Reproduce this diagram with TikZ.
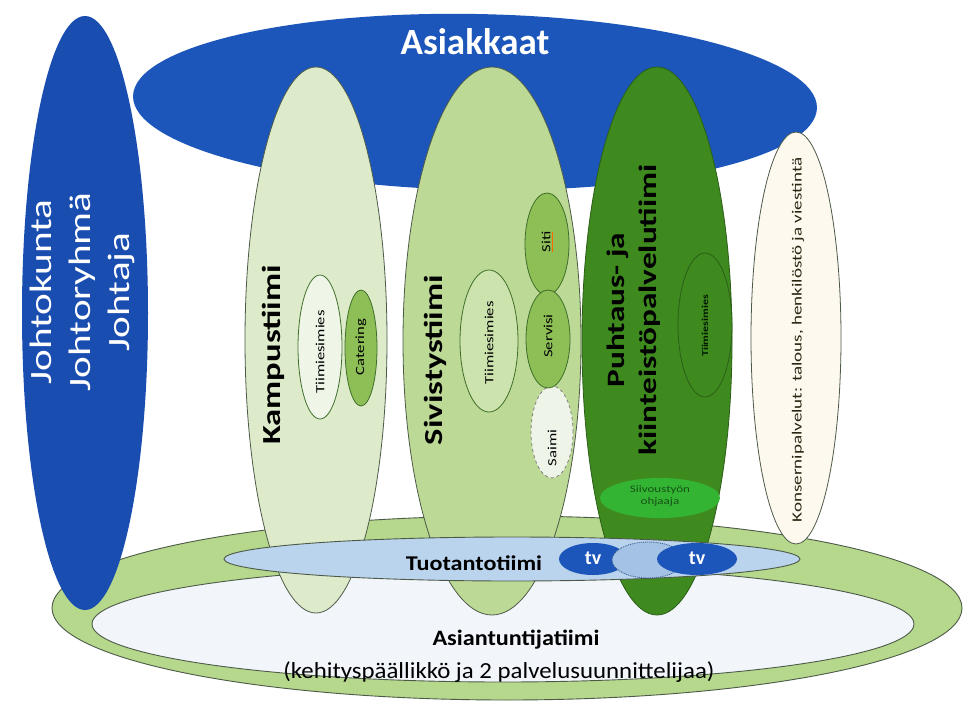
\documentclass[tikz,border=0pt]{standalone}
\usepackage{fontspec}
\setmainfont{Carlito}
\usetikzlibrary{shapes.geometric}
\definecolor{blueA}{HTML}{1C56BA}
\definecolor{blueJ}{HTML}{1A4DB0}
\definecolor{kampus}{HTML}{DDEBCB}
\definecolor{sivis}{HTML}{BCD995}
\definecolor{puhtaus}{HTML}{3E8A1F}
\definecolor{midgreen}{HTML}{8DBF56}
\definecolor{ring}{HTML}{B5D88C}
\definecolor{inner}{HTML}{F2F6FB}
\definecolor{tuot}{HTML}{BAD4EE}
\definecolor{tvmid}{HTML}{A3C2E6}
\definecolor{cream}{HTML}{FDF9EE}
\definecolor{siivous}{HTML}{33B533}
\definecolor{kampusin}{HTML}{EFF6E7}
\definecolor{sivisin}{HTML}{CDE3AE}
\definecolor{saimi}{HTML}{EEF4E8}
\definecolor{edge}{HTML}{4D5A48}
\definecolor{ovgreen}{HTML}{3F6E2A}
\definecolor{ptdark}{HTML}{2C5E18}
\definecolor{dotc}{HTML}{3A5A8A}
\definecolor{txtgreen}{HTML}{155015}
\definecolor{konstxt}{HTML}{2A2410}
\begin{document}
\begin{tikzpicture}[x=1pt,y=-1pt,
  oval/.style={ellipse, inner sep=0pt, outer sep=0pt},
  sz/.style 2 args={minimum width=#1, minimum height=#2},
  rtext/.style={rotate=90, inner sep=0pt, align=center},
  htext/.style={inner sep=0pt, align=center}]
\useasboundingbox[fill=white] (0,0) rectangle (963,706);
% big shapes
\node[oval, fill=blueA, rotate=-1, sz={684pt}{176pt}] (asiakkaat) at (475,102) {};
\node[oval, fill=ring, draw=edge, line width=0.9pt, sz={910pt}{184pt}] (asiantOuter) at (507,608) {};
\node[oval, fill=inner, draw=edge, line width=0.9pt, sz={822pt}{116pt}] (asiantInner) at (503,624) {};
\node[oval, fill=blueJ, sz={126pt}{594pt}] (johto) at (85,313) {};
\node[oval, fill=kampus, draw=edge, line width=0.8pt, sz={142pt}{546pt}] (kampus) at (316,340) {};
\node[oval, fill=sivis, draw=edge, line width=0.8pt, sz={178pt}{548pt}] (sivis) at (492,341) {};
\node[oval, fill=puhtaus, draw=ptdark, line width=0.8pt, sz={150pt}{548pt}] (puhtausE) at (657,341) {};
\node[oval, fill=cream, draw=edge, line width=0.8pt, sz={90pt}{412pt}] (konserni) at (796,338) {};
% inner shapes
\node[oval, fill=kampusin, draw=ovgreen, line width=0.8pt, sz={44pt}{144pt}] (kTiimi) at (320,347) {};
\node[oval, fill=midgreen, draw=ovgreen, line width=0.8pt, sz={32pt}{116pt}] (catering) at (361,348) {};
\node[oval, fill=sivisin, draw=ovgreen, line width=0.8pt, sz={58pt}{142pt}] (sTiimi) at (489,341) {};
\node[oval, fill=saimi, draw=gray, dashed, line width=0.8pt, sz={42pt}{92pt}] (saimiE) at (552,432) {};
\node[oval, fill=midgreen, draw=ovgreen, line width=0.8pt, sz={44pt}{102pt}] (siti) at (547,244) {};
\node[oval, fill=midgreen, draw=ovgreen, line width=0.8pt, sz={44pt}{98pt}] (servisi) at (548,339) {};
\node[oval, fill=puhtaus, draw=ptdark, line width=0.8pt, sz={54pt}{144pt}] (pTiimi) at (705,325) {};
\node[oval, fill=siivous, sz={120pt}{40pt}] (siivous) at (660,498) {};
% production team
\node[oval, fill=tuot, draw=edge, line width=0.9pt, sz={576pt}{44pt}] (tuot) at (512,559) {};
\node[oval, fill=blueA, sz={68pt}{32pt}] (tv1) at (593,559) {};
\node[oval, fill=tvmid, draw=dotc, densely dotted, line width=0.9pt, sz={72pt}{36pt}] (tvm) at (648,560) {};
\node[oval, fill=blueA, sz={80pt}{32pt}] (tv2) at (697,559) {};
% texts
\node[htext, text=white, font=\bfseries\fontsize{37}{40}\selectfont] (asiakkaatL) at (475,42) {Asiakkaat};
\node[rtext, text=white, font=\fontsize{31}{39}\selectfont] (johtoL) at (83,292)
  {\scalebox{1.33}[1]{\begin{tabular}{@{}c@{}}Johtokunta\\Johtoryhmä\\Johtaja\end{tabular}}};
\node[rtext, font=\bfseries\fontsize{26}{30}\selectfont] (kampusL) at (273,355) {\scalebox{1.33}[1]{Kampustiimi}};
\node[rtext, font=\bfseries\fontsize{26}{30}\selectfont] (sivisL) at (435,360) {\scalebox{1.33}[1]{Sivistystiimi}};
\node[rtext, font=\bfseries\fontsize{25}{32}\selectfont] (puhtausL) at (634,310)
  {\scalebox{1.33}[1]{\begin{tabular}{@{}c@{}}Puhtaus- ja\\kiinteistöpalvelutiimi\end{tabular}}};
\node[rtext, text=konstxt, font=\fontsize{14}{16}\selectfont] (konserniL) at (798,340)
  {\scalebox{1.36}[1]{Konsernipalvelut: talous, henkilöstö ja viestintä}};
\node[rtext, font=\fontsize{12.5}{14}\selectfont] (kTiimiL) at (320,352) {\scalebox{1.33}[1]{Tiimiesimies}};
\node[rtext, font=\fontsize{12.5}{14}\selectfont] (cateringL) at (361,347) {\scalebox{1.33}[1]{Catering}};
\node[rtext, font=\fontsize{12.5}{14}\selectfont] (sTiimiL) at (489,343) {\scalebox{1.33}[1]{Tiimiesimies}};
\node[rtext, font=\fontsize{12.5}{14}\selectfont] (sitiL) at (547,242) {\scalebox{1.33}[1]{{\color{orange!80!red}\underline{\textcolor{black}{Siti}}}}};
\node[rtext, font=\fontsize{12.5}{14}\selectfont] (servisiL) at (548,336) {\scalebox{1.33}[1]{Servisi}};
\node[rtext, font=\fontsize{12.5}{14}\selectfont] (saimiL) at (552,448) {\scalebox{1.33}[1]{Saimi}};
\node[rtext, text=black!90!green, font=\bfseries\fontsize{9}{11}\selectfont] (pTiimiL) at (705,326) {\scalebox{1.33}[1]{Tiimiesimies}};
\node[htext, text=txtgreen, font=\fontsize{10}{12.5}\selectfont] (siivousL) at (660,496)
  {\scalebox{1.3}[1]{\begin{tabular}{@{}c@{}}Siivoustyön\\ohjaaja\end{tabular}}};
\node[htext, font=\bfseries\fontsize{21}{24}\selectfont] (tuotL) at (474,563) {\scalebox{1.15}[1]{Tuotantotiimi}};
\node[htext, text=white, font=\bfseries\fontsize{20}{22}\selectfont] (tv1L) at (593,558) {tv};
\node[htext, text=white, font=\bfseries\fontsize{20}{22}\selectfont] (tv2L) at (697,558) {tv};
\node[htext, font=\bfseries\fontsize{22}{26}\selectfont] (asiantL) at (516,640) {\scalebox{1.1}[1]{Asiantuntijatiimi}};
\node[htext, font=\fontsize{23}{26}\selectfont] (asiantL2) at (499,672) {\scalebox{1.08}[1]{(kehityspäällikkö ja 2 palvelusuunnittelijaa)}};
\end{tikzpicture}
\end{document}
